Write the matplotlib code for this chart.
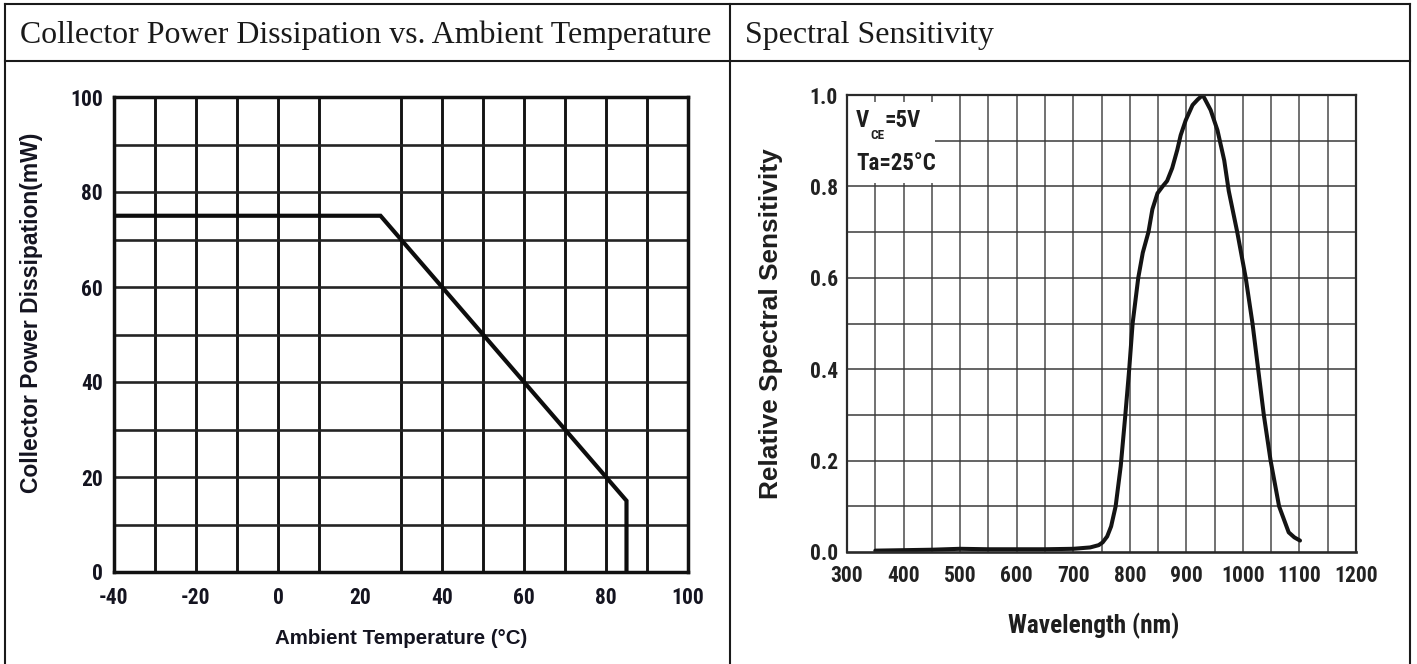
import matplotlib
matplotlib.use('Agg')
import matplotlib.pyplot as plt
from matplotlib import font_manager
from matplotlib.font_manager import FontProperties
from matplotlib.lines import Line2D
from matplotlib.patches import Rectangle

plt.rcParams['axes.unicode_minus'] = False

# ---------------- data ----------------
power_title = "Collector Power Dissipation vs. Ambient Temperature"
spectral_title = "Spectral Sensitivity"

temp_c = [-40, 25, 85, 85]
power_mw = [75, 75, 15, 0]
temp_ticks = [-40, -20, 0, 20, 40, 60, 80, 100]
power_ticks = [0, 20, 40, 60, 80, 100]
temp_grid = [-30, -20, -10, 0, 10, 30, 40, 50, 60, 70, 80, 90]
power_grid = [10, 20, 30, 40, 50, 60, 70, 80, 90]

wavelength_nm = [350, 400, 450, 500, 550, 600, 650, 700, 730, 745, 752, 760,
                 767, 775, 784, 792, 799, 805, 815, 823, 833, 840, 849, 858,
                 866, 875, 884, 890, 899, 911, 920, 929, 943, 955, 967, 975,
                 990, 1005, 1017, 1027, 1037, 1049, 1064, 1081, 1091, 1101]
rel_sens = [0.003, 0.004, 0.005, 0.007, 0.006, 0.006, 0.006, 0.007, 0.010,
            0.015, 0.021, 0.034, 0.056, 0.100, 0.188, 0.298, 0.400, 0.500,
            0.600, 0.655, 0.700, 0.750, 0.785, 0.800, 0.812, 0.840, 0.880,
            0.912, 0.945, 0.978, 0.990, 1.000, 0.967, 0.923, 0.857, 0.790,
            0.700, 0.600, 0.500, 0.400, 0.300, 0.200, 0.100, 0.043, 0.032,
            0.025]
wl_ticks = [300, 400, 500, 600, 700, 800, 900, 1000, 1100, 1200]
sens_ticks = [0.0, 0.2, 0.4, 0.6, 0.8, 1.0]
sens_tick_labels = ["0.0", "0.2", "0.4", "0.6", "0.8", "1.0"]
wl_grid = list(range(350, 1200, 50))
sens_grid = [0.1, 0.2, 0.3, 0.4, 0.5, 0.6, 0.7, 0.8, 0.9]

# ---------------- fonts ----------------
SANS = 'Liberation Sans'
SERIF = 'Liberation Serif'


def _wnum(w):
    if isinstance(w, (int, float)):
        return w
    return {'bold': 700, 'heavy': 800, 'black': 900, 'semibold': 600,
            'demibold': 600, 'extra bold': 800}.get(str(w).lower(), 400)


def find_narrow_bold():
    prefs = ['liberation sans narrow', 'roboto condensed', 'dejavu sans',
             'noto sans', 'open sans', 'arial narrow']
    found = []
    for f in font_manager.fontManager.ttflist:
        nm = f.name.lower()
        fn = f.fname.lower()
        st = str(f.stretch).lower()
        is_narrow = ('narrow' in nm or 'condensed' in nm or 'narrow' in fn
                     or 'condensed' in fn or st in ('condensed',
                                                    'semi-condensed',
                                                    'extra-condensed'))
        if not is_narrow:
            continue
        if 'mono' in nm or 'serif' in nm.replace('sans serif', ''):
            continue
        if 'italic' in fn or 'oblique' in fn or f.style != 'normal':
            continue
        w = _wnum(f.weight)
        if w < 600:
            continue
        rank = len(prefs)
        for i, p in enumerate(prefs):
            if nm.startswith(p):
                rank = i
                break
        found.append((rank, abs(w - 700), f.fname))
    if found:
        found.sort()
        return found[0][2]
    return None


_narrow_path = find_narrow_bold()


def narrow_fp(size):
    if _narrow_path:
        return FontProperties(fname=_narrow_path, size=size)
    return FontProperties(family=SANS, weight='bold', size=size * 0.92)


W, H = 1417, 664
fig = plt.figure(figsize=(W / 100, H / 100), dpi=100)
fig.patch.set_facecolor('white')


def fx(px):
    return px / W


def fy(py):
    return 1 - py / H


# ---------------- table borders ----------------
bc = '#1a1a1a'
blw = 1.5
for (x0, y0, x1, y1) in [(5, 4, 1410, 4), (5, 61, 1410, 61),
                         (5, 4, 5, 670), (1410, 4, 1410, 670),
                         (730, 4, 730, 670)]:
    fig.add_artist(Line2D([fx(x0), fx(x1)], [fy(y0), fy(y1)],
                          transform=fig.transFigure, color=bc, lw=blw,
                          solid_capstyle='projecting'))

t1 = fig.text(fx(20), fy(43.3), power_title, family=SERIF, fontsize=23.5,
              color='#1a1a1a', ha='left', va='baseline')
t2 = fig.text(fx(745), fy(43.3), spectral_title, family=SERIF, fontsize=23.5,
              color='#1a1a1a', ha='left', va='baseline')

# ---------------- left chart ----------------
ax1 = fig.add_axes([fx(114), fy(572), (688 - 114) / W, (572 - 97) / H])
ax1.set_xlim(-40, 100)
ax1.set_ylim(0, 100)
ax1.vlines(temp_grid, 0, 100, color='#141414', lw=2.1, zorder=1)
ax1.hlines(power_grid, -40, 100, color='#242424', lw=1.9, zorder=1)
ax1.plot(temp_c, power_mw, color='#0d0d0d', lw=3.0, solid_joinstyle='miter',
         zorder=3)
for s in ax1.spines.values():
    s.set_linewidth(2.5)
    s.set_color('#111111')
    s.set_zorder(4)
ax1.set_xticks(temp_ticks)
ax1.set_yticks(power_ticks)
ax1.tick_params(length=0)
ax1.tick_params(axis='y', pad=8)
ax1.tick_params(axis='x', pad=11)
for lab in ax1.get_xticklabels() + ax1.get_yticklabels():
    lab.set_fontproperties(narrow_fp(15.5))
    lab.set_color('#141420')

yl1 = fig.text(fx(31.5), fy(312.5), "Collector Power Dissipation(mW)",
               family=SANS, fontweight='bold', fontsize=14, rotation=90,
               ha='center', va='center', color='#141420')
xl1 = fig.text(fx(401), fy(638), "Ambient Temperature (°C)",
               family=SANS, fontweight='bold', fontsize=14,
               ha='center', va='center', color='#141420')

# ---------------- right chart ----------------
ax2 = fig.add_axes([fx(847), fy(552), (1356 - 847) / W, (552 - 95) / H])
ax2.set_xlim(300, 1200)
ax2.set_ylim(0, 1.0)
ax2.vlines(wl_grid, 0, 1, color='#4a4a4a', lw=1.1, zorder=0.5)
ax2.hlines(sens_grid, 300, 1200, color='#3a3a3a', lw=1.1, zorder=0.5)
ax2.add_patch(Rectangle((0.0, 0.808), (935 - 847) / 509, 0.985 - 0.808,
                        transform=ax2.transAxes, facecolor='white',
                        edgecolor='none', zorder=1))
ax2.plot(wavelength_nm, rel_sens, color='#141414', lw=2.9,
         solid_capstyle='round', solid_joinstyle='round', zorder=3)
for name, s in ax2.spines.items():
    s.set_linewidth(1.6 if name != 'bottom' else 1.9)
    s.set_color('#2a2a2a')
    s.set_zorder(4)
ax2.set_xticks(wl_ticks)
ax2.set_yticks(sens_ticks)
ax2.set_yticklabels(sens_tick_labels)
ax2.tick_params(length=0)
ax2.tick_params(axis='y', pad=6.5)
ax2.tick_params(axis='x', pad=9.5)
for lab in ax2.get_xticklabels() + ax2.get_yticklabels():
    lab.set_fontproperties(narrow_fp(15.5))
    lab.set_color('#222222')

# annotation box texts
vtxt = ax2.text((856 - 847) / 509, (552 - 120.5) / 457, "V",
                transform=ax2.transAxes, fontproperties=narrow_fp(16.5),
                ha='left', va='center', color='#1e1e1e', zorder=5)
cetxt = ax2.annotate("CE", xy=(1.0, 0.12), xycoords=vtxt, xytext=(0.5, 0),
                     textcoords='offset points', fontproperties=narrow_fp(9.5),
                     ha='left', va='top', color='#1e1e1e', zorder=5)
ax2.annotate("=5V", xy=(1.0, 0.5), xycoords=(cetxt, vtxt), xytext=(0.5, 0),
             textcoords='offset points', fontproperties=narrow_fp(16.5),
             ha='left', va='center', color='#1e1e1e', zorder=5)
ax2.text((856 - 847) / 509, (552 - 164) / 457, "Ta=25°C",
         transform=ax2.transAxes, fontproperties=narrow_fp(16.5),
         ha='left', va='center', color='#1e1e1e', zorder=5)

yl2 = fig.text(fx(771.5), fy(323.5), "Relative Spectral Sensitivity",
               family=SANS, fontweight='bold', fontsize=15, rotation=90,
               ha='center', va='center', color='#1e1e1e')
xl2 = fig.text(fx(1094), fy(626), "Wavelength (nm)",
               fontproperties=narrow_fp(16), ha='center', va='center',
               color='#1e1e1e')

# ---------------- fit text lengths to the reference ----------------
fig.canvas.draw()
renderer = fig.canvas.get_renderer()


def fit(t, target, vertical=False):
    bb = t.get_window_extent(renderer)
    cur = bb.height if vertical else bb.width
    if cur > 0:
        t.set_fontsize(t.get_fontsize() * target / cur)


fit(t1, 692)
t2.set_fontsize(t1.get_fontsize())
fit(yl1, 361, vertical=True)
fit(xl1, 253)
fit(yl2, 353, vertical=True)
fit(xl2, 171)

fig.savefig('out.png', dpi=100, facecolor='white')
